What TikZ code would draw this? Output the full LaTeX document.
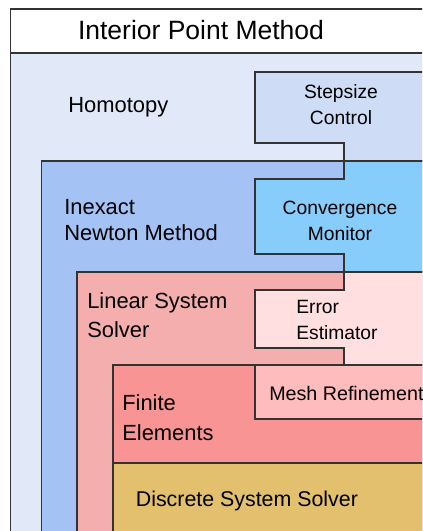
\documentclass[tikz,border=0pt]{standalone}
\usepackage{fontspec}
\setmainfont{Liberation Sans}
\usepackage{tikz}
\usetikzlibrary{arrows,shapes}
\usepackage{xcolor}
\definecolor{homotopy}{HTML}{E1E8F8}
\definecolor{stepsize}{HTML}{CEDCF6}
\definecolor{inexact}{HTML}{A4C2F4}
\definecolor{converge}{HTML}{87CDFB}
\definecolor{linsys}{HTML}{F4AEAE}
\definecolor{errest}{HTML}{FFDFE0}
\definecolor{finite}{HTML}{F99494}
\definecolor{meshref}{HTML}{FFBCBC}
\definecolor{discrete}{HTML}{E2C06D}

\begin{document}
\begin{tikzpicture}
  \tikzstyle{layer}=[draw=black!80,line width=.75pt]
  \tikzstyle{region}=[font=\fontsize{15.6}{19.2}\selectfont,align=left,anchor=base west,inner sep=0pt]
  \tikzstyle{box}=[font=\fontsize{13.7}{18.8}\selectfont,align=center,anchor=base,inner sep=0pt]
  \useasboundingbox (0,0) rectangle (10.55,13.275);
  \clip (0,0) rectangle (10.55,13.275);
  % nested layers
  \filldraw[layer,fill=white] (0.2625,13.05) rectangle (11,-1);
  \filldraw[layer,fill=homotopy] (0.2625,11.95) rectangle (11,-1);
  \filldraw[layer,fill=stepsize] (6.375,11.475) -- (11,11.475) -- (11,9.25) -- (8.6,9.25)
    -- (8.6,9.7) -- (6.375,9.7) -- cycle;
  \filldraw[layer,fill=inexact] (1.0375,9.25) rectangle (11,-1);
  \filldraw[layer,fill=converge] (8.6,9.25) -- (11,9.25) -- (11,6.475) -- (8.6,6.475)
    -- (8.6,6.925) -- (6.375,6.925) -- (6.375,8.8) -- (8.6,8.8) -- cycle;
  \filldraw[layer,fill=linsys] (1.925,6.475) rectangle (11,-1);
  \filldraw[layer,fill=errest] (8.6,6.475) -- (11,6.475) -- (11,4.15) -- (8.6,4.15)
    -- (8.6,4.575) -- (6.375,4.575) -- (6.375,6.025) -- (8.6,6.025) -- cycle;
  \filldraw[layer,fill=finite] (2.825,4.15) rectangle (11,-1);
  \filldraw[layer,fill=meshref] (6.375,4.15) rectangle (11,2.8);
  \filldraw[layer,fill=discrete] (2.825,1.7) rectangle (11,-1);
  % labels (multi-line nodes sit on their last baseline)
  \node(ipm) at (5.025,12.275)[anchor=base,inner sep=0pt,font=\fontsize{18.85}{22}\selectfont]{Interior Point Method};
  \node(homotopy) at (1.7,10.45)[region]{Homotopy};
  \node(stepsize) at (8.525,10.15)[box,font=\fontsize{13.7}{18.5}\selectfont]{Stepsize\\Control};
  \node(newton) at (1.6,7.25)[region]{Inexact\\Newton Method};
  \node(monitor) at (8.5,7.25)[box,font=\fontsize{13.7}{19.2}\selectfont]{Convergence\\Monitor};
  \node(linsolve) at (2.175,4.825)[region,font=\fontsize{15.6}{21.3}\selectfont]{Linear System\\Solver};
  \node(estimator) at (7.4,4.775)[box,align=left,anchor=base west,font=\fontsize{13.7}{19.2}\selectfont]{Error\\Estimator};
  \node(fem) at (3.05,2.25)[region,font=\fontsize{15.6}{22}\selectfont]{Finite\\Elements};
  \node(mesh) at (6.725,3.25)[box,anchor=base west,font=\fontsize{14}{18}\selectfont]{Mesh Refinement};
  \node(dss) at (3.39,0.6)[region,font=\fontsize{15.2}{19}\selectfont]{Discrete System Solver};
\end{tikzpicture}
\end{document}
